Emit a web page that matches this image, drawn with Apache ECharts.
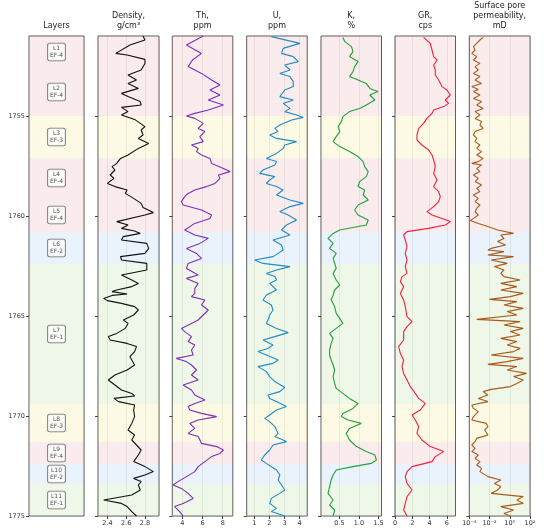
<!DOCTYPE html>
<html>
<head>
<meta charset="utf-8">
<script src="https://cdn.jsdelivr.net/npm/echarts@6/dist/echarts.min.js"></script>
<style>
  html, body { margin: 0; padding: 0; background: #fff; }
  #chart { width: 550px; height: 532px; }
</style>
</head>
<body>
<div id="chart"></div>
<script>
// depth ticks
const depthTicks = [1755, 1760, 1765, 1770, 1775];

// layers
const layerNames   = ['L1', 'L2', 'L3', 'L4', 'L5', 'L6', 'L7', 'L8', 'L9', 'L10', 'L11'];
const layerClasses = ['EF-4', 'EF-4', 'EF-3', 'EF-4', 'EF-4', 'EF-2', 'EF-1', 'EF-3', 'EF-4', 'EF-2', 'EF-1'];
const layerTops    = [1751, 1752.6, 1755, 1757.1, 1759.1, 1760.8, 1762.4, 1769.4, 1771.3, 1772.4, 1773.4];
const layerBases   = [1752.6, 1755, 1757.1, 1759.1, 1760.8, 1762.4, 1769.4, 1771.3, 1772.4, 1773.4, 1775];

// density, g/cm3
const densDepth = [1751.0, 1751.2, 1751.45, 1751.87, 1751.95, 1752.17, 1752.37, 1752.7, 1752.95, 1753.2,
  1753.37, 1753.62, 1753.87, 1754.03, 1754.28, 1754.45, 1754.57, 1754.78, 1754.95, 1755.17,
  1755.53, 1755.7, 1755.95, 1756.12, 1756.37, 1756.62, 1756.95, 1757.12, 1757.37, 1757.53,
  1757.7, 1757.95, 1758.12, 1758.37, 1758.53, 1758.7, 1758.87, 1759.12, 1759.37, 1759.57,
  1759.83, 1759.95, 1760.28, 1760.45, 1760.62, 1760.75, 1760.87, 1761.03, 1761.2, 1761.37,
  1761.62, 1761.87, 1762.03, 1762.2, 1762.37, 1762.7, 1762.95,
  1763.2, 1763.37, 1763.53, 1763.7, 1763.78, 1763.9, 1763.97, 1764.12, 1764.23, 1764.37,
  1764.53, 1764.7, 1764.95, 1765.2, 1765.37, 1765.62, 1765.87, 1766.03, 1766.2, 1766.37,
  1766.53, 1766.78, 1767.03, 1767.2, 1767.45, 1767.7, 1767.95, 1768.2, 1768.45, 1768.7,
  1768.87, 1769.0, 1769.12, 1769.28, 1769.45, 1769.7, 1770.03, 1770.37, 1770.7, 1770.95,
  1771.2, 1771.45, 1771.7, 1771.95, 1772.28, 1772.53, 1772.78, 1772.95, 1773.12, 1773.28,
  1773.45, 1773.7, 1773.95, 1774.2, 1774.37, 1774.53, 1774.78, 1775.0];
const densVal = [2.78, 2.80, 2.64, 2.49, 2.61, 2.80, 2.80, 2.76, 2.62, 2.71,
  2.62, 2.73, 2.55, 2.62, 2.75, 2.76, 2.55, 2.62, 2.55, 2.69,
  2.80, 2.76, 2.78, 2.73, 2.84, 2.73, 2.62, 2.54, 2.50, 2.45,
  2.48, 2.43, 2.47, 2.40, 2.48, 2.61, 2.59, 2.68, 2.76, 2.78,
  2.89, 2.80, 2.50, 2.62, 2.55, 2.69, 2.75, 2.57, 2.55, 2.82,
  2.84, 2.80, 2.54, 2.55, 2.82, 2.82, 2.55,
  2.66, 2.73, 2.66, 2.50, 2.45, 2.61, 2.45, 2.36, 2.40, 2.55,
  2.69, 2.73, 2.68, 2.57, 2.62, 2.59, 2.50, 2.41, 2.43, 2.61,
  2.71, 2.69, 2.64, 2.66, 2.69, 2.61, 2.48, 2.41, 2.48, 2.55,
  2.66, 2.69, 2.47, 2.52, 2.69, 2.68, 2.69, 2.66, 2.62, 2.69,
  2.66, 2.71, 2.76, 2.73, 2.68, 2.80, 2.89, 2.80, 2.68, 2.76,
  2.73, 2.75, 2.66, 2.36, 2.55, 2.61, 2.66, 2.71];
const densTicks = [2.4, 2.6, 2.8];

// Th, ppm
const thDepth = [1751.0, 1751.45, 1751.87, 1752.2, 1752.53, 1752.87, 1753.2, 1753.45, 1753.7, 1753.95,
  1754.2, 1754.45, 1754.7, 1754.87, 1755.0, 1755.12, 1755.37, 1755.62, 1755.78, 1756.03,
  1756.28, 1756.45, 1756.62, 1756.78, 1756.95, 1757.12, 1757.37, 1757.62, 1757.78, 1757.95,
  1758.12, 1758.37, 1758.53, 1758.7, 1758.87, 1759.03, 1759.28, 1759.45, 1759.7, 1759.95,
  1760.12, 1760.37, 1760.7, 1760.95, 1761.12, 1761.37, 1761.62, 1761.87, 1762.12, 1762.37,
  1762.62, 1762.95, 1763.12, 1763.37, 1763.62, 1763.87, 1764.03, 1764.2, 1764.45, 1764.7,
  1764.95, 1765.2, 1765.37, 1765.62, 1765.78, 1766.03, 1766.28, 1766.45, 1766.7, 1766.95,
  1767.12, 1767.28, 1767.45, 1767.7, 1767.95, 1768.2, 1768.45, 1768.7, 1768.95, 1769.2,
  1769.37, 1769.53, 1769.7, 1769.87, 1770.03, 1770.2, 1770.37, 1770.62, 1770.87, 1771.03,
  1771.37, 1771.53, 1771.7, 1771.87, 1772.03, 1772.28, 1772.53, 1772.78, 1773.03, 1773.28,
  1773.45, 1773.62, 1773.87, 1774.12, 1774.37, 1774.53, 1774.78, 1775.0];
const thVal = [6.07, 4.4, 5.9, 5.0, 4.57, 5.9, 6.9, 7.73, 6.73, 7.73,
  6.57, 8.07, 6.57, 5.23, 4.4, 5.23, 6.07, 5.57, 6.23, 5.73,
  6.07, 4.9, 5.57, 5.4, 5.9, 6.73, 6.9, 8.07, 8.73, 7.57,
  7.73, 7.23, 6.4, 5.23, 4.57, 4.23, 3.9, 4.07, 5.9, 6.9,
  6.73, 5.23, 4.23, 5.23, 6.57, 5.73, 4.4, 5.4, 5.9, 4.57,
  4.4, 5.57, 4.4, 5.57, 5.23, 5.23, 4.9, 6.23, 5.9, 6.57,
  6.07, 5.57, 4.9, 3.9, 4.23, 4.9, 4.57, 5.23, 4.9, 5.07,
  3.4, 4.4, 4.9, 5.4, 4.9, 5.57, 4.07, 4.9, 5.23, 6.23,
  5.23, 4.57, 4.73, 5.9, 7.4, 5.57, 4.73, 5.23, 4.57, 5.57,
  5.9, 7.4, 8.07, 7.73, 6.9, 6.23, 5.57, 5.23, 4.4, 3.57,
  3.07, 3.9, 4.57, 5.07, 4.07, 3.23, 3.73, 4.07];
const thTicks = [4, 6, 8];

// U, ppm
const uDepth = [1751.03, 1751.37, 1751.62, 1751.87, 1752.03, 1752.28, 1752.45, 1752.7, 1752.87, 1753.03,
  1753.28, 1753.53, 1753.7, 1754.03, 1754.2, 1754.37, 1754.62, 1754.78, 1754.95, 1755.07,
  1755.2, 1755.45, 1755.62, 1755.78, 1755.95, 1756.12, 1756.28, 1756.45, 1756.62, 1756.87,
  1757.12, 1757.28, 1757.45, 1757.7, 1757.87, 1758.03, 1758.2, 1758.37, 1758.53, 1758.7,
  1758.95, 1759.2, 1759.37, 1759.53, 1759.78, 1759.95, 1760.2, 1760.45, 1760.7, 1760.95,
  1761.2, 1761.45, 1761.7, 1761.87, 1762.03, 1762.2, 1762.37, 1762.53, 1762.7, 1762.87,
  1763.03, 1763.2, 1763.37, 1763.53, 1763.7, 1763.95, 1764.2, 1764.45, 1764.7, 1764.95,
  1765.2, 1765.37, 1765.62, 1765.83, 1766.03, 1766.2, 1766.45, 1766.62, 1766.78, 1766.95,
  1767.2, 1767.37, 1767.53, 1767.78, 1768.03, 1768.28, 1768.57, 1768.78, 1768.95, 1769.12,
  1769.28, 1769.53, 1769.7, 1769.95, 1770.12, 1770.28, 1770.53, 1770.87, 1771.03, 1771.28,
  1771.45, 1771.7, 1771.95, 1772.2, 1772.37, 1772.7, 1772.95, 1773.2, 1773.45, 1773.7,
  1773.87, 1774.12, 1774.37, 1774.62, 1774.78, 1775.0];
const uVal = [2.13, 4.02, 2.91, 2.8, 3.58, 3.91, 3.02, 3.36, 2.69, 3.36,
  3.58, 3.58, 3.02, 2.69, 3.58, 2.91, 3.36, 3.02, 3.8, 4.24,
  3.47, 2.69, 2.36, 2.58, 2.02, 2.47, 3.8, 3.02, 2.91, 2.47,
  1.8, 2.47, 2.36, 1.58, 1.36, 2.36, 2.02, 1.8, 2.47, 2.91,
  2.47, 3.36, 4.24, 3.36, 2.69, 3.24, 3.8, 3.13, 2.8, 3.36,
  2.24, 2.8, 2.91, 2.58, 2.24, 1.02, 1.58, 3.36, 2.47, 1.8,
  2.36, 2.47, 2.02, 2.24, 2.47, 1.8, 1.58, 2.13, 2.24, 2.02,
  1.91, 1.8, 2.47, 3.24, 2.36, 1.58, 2.24, 1.91, 1.24, 1.8,
  2.58, 2.24, 1.24, 1.8, 2.02, 2.36, 3.02, 2.69, 1.91, 2.02,
  2.47, 3.13, 2.47, 2.02, 1.69, 2.02, 2.36, 2.58, 2.36, 3.13,
  2.24, 2.02, 1.69, 1.47, 1.8, 2.47, 2.69, 2.58, 2.8, 3.02,
  2.69, 2.13, 2.02, 2.47, 2.13, 3.02];
const uTicks = [1, 2, 3, 4];

// K, %
const kDepth = [1751.07, 1751.28, 1751.53, 1751.78, 1752.03, 1752.28, 1752.53, 1752.78, 1753.03, 1753.2,
  1753.37, 1753.62, 1753.78, 1753.95, 1754.2, 1754.45, 1754.62, 1754.78, 1755.03, 1755.28,
  1755.53, 1755.78, 1756.03, 1756.28, 1756.53, 1756.78, 1757.03, 1757.28, 1757.53, 1757.78,
  1758.03, 1758.28, 1758.53, 1758.7, 1758.95, 1759.2, 1759.45, 1759.7, 1759.95, 1760.2,
  1760.45, 1760.7, 1760.87, 1761.12, 1761.37, 1761.62, 1761.87, 1762.12, 1762.37, 1762.62,
  1762.87, 1763.2, 1763.45, 1763.7, 1763.95, 1764.2, 1764.53, 1764.87, 1765.12, 1765.37,
  1765.62, 1765.87, 1766.12, 1766.37, 1766.7, 1766.95, 1767.2, 1767.45, 1767.7, 1768.03,
  1768.37, 1768.62, 1768.87, 1769.12, 1769.37, 1769.62, 1769.87, 1770.03, 1770.2, 1770.37,
  1770.62, 1770.87, 1771.2, 1771.53, 1771.78, 1771.95, 1772.2, 1772.37, 1772.53, 1772.7,
  1772.95, 1773.2, 1773.53, 1773.87, 1774.2, 1774.45, 1774.7, 1775.0];
const kVal = [0.59, 0.64, 0.81, 0.85, 0.76, 0.98, 0.89, 0.85, 0.76, 0.98,
  1.19, 1.28, 1.49, 1.28, 1.41, 1.19, 1.02, 0.76, 0.59, 0.55,
  0.47, 0.51, 0.42, 0.34, 0.51, 0.76, 0.98, 1.11, 1.15, 1.24,
  1.19, 1.02, 0.98, 1.15, 1.11, 1.24, 0.98, 0.89, 0.98, 1.24,
  1.19, 0.51, 0.34, 0.21, 0.34, 0.25, 0.42, 0.34, 0.38, 0.42,
  0.34, 0.42, 0.51, 0.38, 0.34, 0.29, 0.38, 0.42, 0.51, 0.59,
  0.42, 0.25, 0.34, 0.29, 0.25, 0.25, 0.29, 0.34, 0.38, 0.34,
  0.38, 0.42, 0.59, 0.76, 0.98, 0.85, 0.59, 0.55, 0.72, 1.06,
  0.76, 0.68, 0.76, 0.94, 1.19, 1.41, 1.45, 1.32, 0.85, 0.42,
  0.34, 0.29, 0.25, 0.21, 0.34, 0.25, 0.38, 0.34];
const kTicks = [0.5, 1.0, 1.5];

// GR, cps
const grDepth = [1751.07, 1751.37, 1751.7, 1752.03, 1752.2, 1752.45, 1752.7, 1752.95, 1753.2, 1753.53,
  1753.7, 1753.95, 1754.2, 1754.37, 1754.53, 1754.7, 1754.87, 1755.12, 1755.37, 1755.62,
  1755.95, 1756.2, 1756.45, 1756.7, 1756.95, 1757.2, 1757.53, 1757.87, 1758.2, 1758.53,
  1758.78, 1759.03, 1759.28, 1759.53, 1759.78, 1759.95, 1760.12, 1760.28, 1760.45, 1760.62,
  1760.78, 1760.95, 1761.2, 1761.53, 1761.87, 1762.2, 1762.53, 1762.87, 1763.03, 1763.28,
  1763.53, 1763.87, 1764.2, 1764.53, 1765.03, 1765.28, 1765.53, 1765.78, 1766.2, 1766.53,
  1766.87, 1767.2, 1767.53, 1767.87, 1768.2, 1768.53, 1768.87, 1769.12, 1769.37, 1769.7,
  1769.95, 1770.2, 1770.53, 1770.87, 1771.2, 1771.53, 1771.78, 1772.03, 1772.28, 1772.53,
  1772.78, 1773.03, 1773.37, 1773.7, 1774.03, 1774.37, 1774.7, 1775.0];
const grVal = [3.31, 4.08, 4.28, 4.47, 4.86, 4.47, 4.66, 4.66, 5.05, 5.43,
  6.01, 6.4, 5.82, 6.2, 5.63, 4.47, 4.28, 3.7, 3.31, 2.74,
  2.54, 2.54, 3.12, 3.89, 4.28, 4.47, 4.66, 4.47, 4.86, 4.47,
  5.05, 5.24, 5.05, 4.47, 3.7, 4.28, 5.43, 6.4, 5.82, 3.89,
  1.39, 1.0, 1.19, 1.39, 1.19, 1.39, 1.19, 1.39, 0.81, 0.62,
  1.0, 0.62, 1.0, 1.19, 1.39, 1.97, 1.39, 1.0, 1.0, 0.42,
  0.62, 1.0, 0.81, 1.0, 1.39, 1.77, 2.35, 2.74, 3.51, 2.93,
  1.97, 2.35, 2.74, 2.54, 3.12, 4.08, 5.63, 4.66, 4.28, 1.97,
  1.39, 1.19, 1.39, 1.97, 1.39, 1.19, 1.0, 1.39];
const grTicks = [0, 2, 4, 6];

// surface pore permeability, log10(mD)
const permDepth = [1751.07, 1751.2, 1751.37, 1751.53, 1751.7, 1751.87, 1752.03, 1752.2, 1752.37, 1752.53,
  1752.7, 1752.87, 1753.03, 1753.2, 1753.37, 1753.53, 1753.67, 1753.78, 1753.95, 1754.12,
  1754.28, 1754.45, 1754.62, 1754.78, 1754.95, 1755.12, 1755.28, 1755.45, 1755.62, 1755.78,
  1755.95, 1756.12, 1756.28, 1756.45, 1756.62, 1756.78, 1756.95, 1757.12, 1757.28, 1757.37,
  1757.45, 1757.62, 1757.78, 1757.95, 1758.12, 1758.28, 1758.45, 1758.62, 1758.78, 1758.95,
  1759.12, 1759.28, 1759.45, 1759.62, 1759.78, 1759.95, 1760.12, 1760.23, 1760.37, 1760.53,
  1760.7, 1760.78, 1760.87, 1760.95, 1761.12, 1761.28, 1761.45, 1761.62, 1761.7, 1761.78,
  1761.95, 1762.03, 1762.2, 1762.37, 1762.53, 1762.7, 1762.87, 1763.03, 1763.2, 1763.37,
  1763.53, 1763.7, 1763.87, 1764.03, 1764.17, 1764.28, 1764.45, 1764.62, 1764.78, 1764.95,
  1765.17, 1765.28, 1765.45, 1765.62, 1765.78, 1765.95, 1766.12, 1766.28, 1766.45, 1766.62,
  1766.78, 1766.95, 1767.12, 1767.28, 1767.42, 1767.53, 1767.7, 1767.87, 1768.03, 1768.2,
  1768.37, 1768.53, 1768.67, 1768.78, 1768.95, 1769.12, 1769.28, 1769.45, 1769.62, 1769.78,
  1770.03, 1770.2, 1770.37, 1770.53, 1770.7, 1770.95, 1771.12, 1771.28, 1771.45, 1771.62,
  1771.78, 1771.95, 1772.12, 1772.28, 1772.45, 1772.62, 1772.78, 1773.03, 1773.2, 1773.37,
  1773.53, 1773.7, 1773.87, 1774.03, 1774.2, 1774.37, 1774.53, 1774.7, 1774.87, 1775.0];
const permLog = [-2.63, -2.95, -3.27, -3.59, -3.43, -3.75, -3.27, -3.59, -2.95, -3.43,
  -3.11, -3.59, -2.95, -3.43, -2.79, -3.75, -3.11, -3.59, -2.95, -3.59,
  -2.79, -3.27, -2.63, -3.43, -2.95, -3.43, -2.79, -2.95, -2.63, -3.43,
  -3.59, -3.27, -3.43, -2.95, -3.27, -2.79, -3.27, -2.63, -3.11, -3.75,
  -2.79, -3.27, -2.95, -3.59, -3.11, -3.43, -2.79, -3.27, -2.95, -3.59,
  -3.11, -3.43, -2.95, -3.27, -3.43, -3.11, -3.59, -3.9, -3.11, -2.16,
  -1.21, -1.05, 0.38, -0.89, -0.57, -1.21, -0.41, -1.84, -2.16, -0.57,
  -2.16, 0.38, -1.84, -0.25, -1.52, -0.57, -0.89, -0.57, 1.02, -0.89,
  0.7, -0.89, 1.33, 0.06, -2.0, 0.7, -0.57, 1.33, -0.25, 0.7,
  -3.27, 1.02, -0.57, 1.33, 0.06, 1.02, -0.89, 0.7, -0.25, 1.02,
  0.38, -1.84, 1.33, -0.25, -2.16, 0.7, -0.25, 1.65, 0.38, 1.33,
  0.7, 0.06, -1.84, -2.63, -2.16, -3.11, -2.16, -3.75, -3.59, -3.11,
  -3.59, -3.75, -2.32, -2.16, -2.48, -2.16, -3.27, -3.43, -3.75, -3.43,
  -3.75, -3.11, -3.43, -2.95, -3.27, -2.79, -2.95, -2.16, -0.89, -1.52,
  -0.89, -1.21, -1.84, 1.33, 0.7, 1.33, -0.89, 0.38, -0.57, 0.06];
const permTicks = [-4, -2, 0, 2];

const classColors = {
    'EF-4': 'rgba(230,160,160,0.2)',
    'EF-3': 'rgba(240,225,120,0.2)',
    'EF-2': 'rgba(150,190,235,0.2)',
    'EF-1': 'rgba(170,215,140,0.2)',
};

const SUP = { '-': '⁻', '0': '⁰', '1': '¹', '2': '²', '3': '³', '4': '⁴' };
const pow10 = v => '10' + String(v).split('').map(c => SUP[c] || c).join('');

const panels = [
    { title: 'Layers', left: 29, width: 55, min: 0, max: 1 },
    { title: 'Density,\ng/cm³', left: 98, width: 61, min: 2.3, max: 2.95, ticks: densTicks,
      depth: densDepth, values: densVal, color: '#111111', fmt: v => v.toFixed(1) },
    { title: 'Th,\nppm', left: 172.3, width: 60.5, min: 3, max: 9, ticks: thTicks,
      depth: thDepth, values: thVal, color: '#7e2fb8', fmt: v => String(v) },
    { title: 'U,\nppm', left: 246.7, width: 60.5, min: 0.5, max: 4.5, ticks: uTicks,
      depth: uDepth, values: uVal, color: '#1f8cc4', fmt: v => String(v) },
    { title: 'K,\n%', left: 321, width: 60.5, min: 0.03, max: 1.58, ticks: kTicks,
      depth: kDepth, values: kVal, color: '#1fa03a', fmt: v => v.toFixed(1) },
    { title: 'GR,\ncps', left: 395, width: 60.5, min: 0, max: 7, ticks: grTicks,
      depth: grDepth, values: grVal, color: '#f5203c', fmt: v => String(v) },
    { title: 'Surface pore\npermeability,\nmD', left: 469.3, width: 60.7, min: -4, max: 2, ticks: permTicks,
      depth: permDepth, values: permLog, color: '#a95b1c', fmt: pow10 },
];

const TOP = 36, HEIGHT = 480;

const bands = layerNames.map((n, i) => [
    { yAxis: layerTops[i], itemStyle: { color: classColors[layerClasses[i]] } },
    { yAxis: layerBases[i] },
]);

const grid = [], xAxis = [], yAxis = [], series = [], graphic = [];

panels.forEach((p, i) => {
    grid.push({ left: p.left, top: TOP, width: p.width, height: HEIGHT, show: true,
        borderColor: '#555', borderWidth: 1, backgroundColor: 'transparent' });

    const hasTicks = !!p.ticks;
    xAxis.push({
        type: 'value', gridIndex: i, min: p.min, max: p.max, position: 'bottom',
        axisLine: { show: false, onZero: false },
        axisTick: { show: hasTicks, length: 3, customValues: p.ticks || [], lineStyle: { color: '#444' } },
        axisLabel: { show: hasTicks, customValues: p.ticks || [], fontSize: 6.5, color: '#333',
            margin: 4, formatter: p.fmt },
        splitLine: { show: hasTicks, lineStyle: { color: 'rgba(0,0,0,0.09)', width: 0.8 } },
    });

    yAxis.push({
        type: 'value', gridIndex: i, inverse: true, min: 1751, max: 1775, position: 'left',
        axisLine: { show: false, onZero: false },
        axisTick: { show: true, length: 3, customValues: depthTicks, lineStyle: { color: '#444' } },
        axisLabel: { show: i === 0, customValues: depthTicks, fontSize: 6.5, color: '#333', margin: 4,
            formatter: v => String(v) },
        splitLine: { show: false },
    });

    const markArea = { silent: true, data: bands };

    if (p.depth) {
        series.push({
            type: 'line', xAxisIndex: i, yAxisIndex: i, symbol: 'none', clip: false,
            data: p.depth.map((d, k) => [p.values[k], d]),
            lineStyle: { color: p.color, width: 1.1 },
            markArea,
        });
    } else {
        series.push({
            type: 'scatter', xAxisIndex: i, yAxisIndex: i, symbolSize: 1,
            itemStyle: { color: 'transparent' },
            data: layerNames.map((n, k) => [0.5, (layerTops[k] + layerBases[k]) / 2, n, layerClasses[k]]),
            label: {
                show: true, position: 'inside', color: '#222', fontSize: 6, lineHeight: 7,
                backgroundColor: '#fff', borderColor: '#555', borderWidth: 0.8, borderRadius: 2,
                padding: [2, 2, 1, 2], align: 'center',
                formatter: q => q.data[2] + '\n' + q.data[3],
            },
            markArea,
        });
    }

    graphic.push({
        type: 'text', x: p.left + p.width / 2, y: 31,
        style: { text: p.title, textAlign: 'center', textVerticalAlign: 'bottom',
            fontSize: 8, lineHeight: 10, fontFamily: 'DejaVu Sans', fill: '#222' },
    });
});

const chart = echarts.init(document.getElementById('chart'), null, { renderer: 'canvas' });
chart.setOption({
    animation: false,
    backgroundColor: '#fff',
    textStyle: { fontFamily: 'DejaVu Sans' },
    grid, xAxis, yAxis, series, graphic,
});
</script>
</body>
</html>
